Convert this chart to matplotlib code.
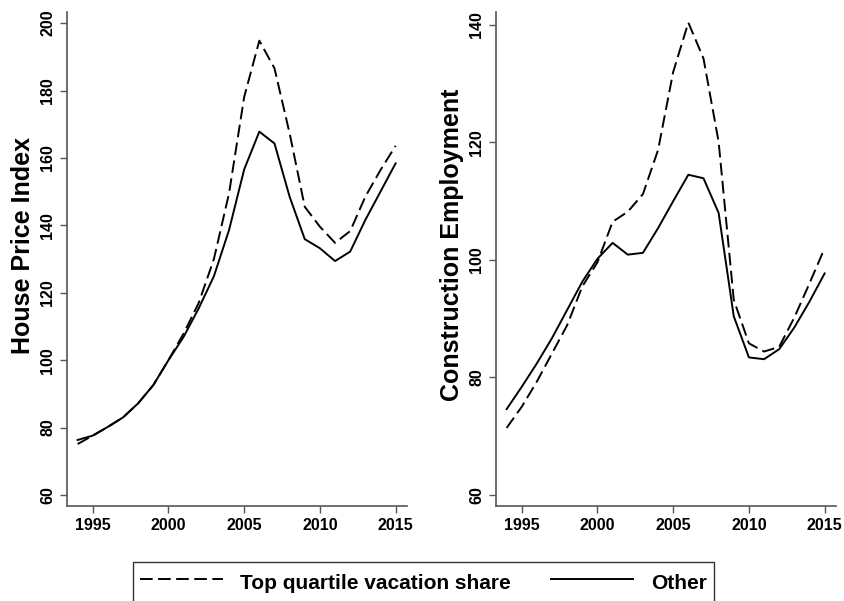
import matplotlib.pyplot as plt

plt.rcParams['font.family'] = ['Liberation Sans', 'DejaVu Sans']

years = list(range(1994, 2016))

# house price index
hpi_top = [75.1, 77.6, 80.2, 83.0, 87.2, 92.6, 100.0, 107.9, 117.0, 130.0, 149.5, 178.1,
           194.8, 186.6, 167.3, 145.5, 139.6, 134.8, 138.3, 148.5, 156.4, 163.6]
hpi_other = [76.3, 77.6, 80.2, 83.0, 87.2, 92.6, 100.0, 106.9, 115.4, 124.9, 138.6, 156.6,
             167.8, 164.3, 148.5, 135.9, 133.2, 129.4, 132.2, 141.6, 150.0, 158.4]

# construction employment
emp_top = [71.4, 75.0, 79.3, 84.1, 88.9, 95.5, 99.6, 106.5, 108.2, 111.2, 118.7, 132.0,
           140.4, 134.3, 120.1, 93.2, 85.8, 84.4, 85.2, 90.2, 96.0, 102.0]
emp_other = [74.6, 78.4, 82.4, 86.7, 91.5, 96.3, 100.2, 102.9, 100.9, 101.2, 105.4, 110.0,
             114.5, 113.9, 108.0, 90.4, 83.4, 83.1, 84.8, 88.5, 92.9, 97.7]

xticks = [1995, 2000, 2005, 2010, 2015]

fig = plt.figure(figsize=(8.44, 6.01), dpi=100)
ax1 = fig.add_axes([0.0794, 0.158, 0.4028, 0.822])
ax2 = fig.add_axes([0.5877, 0.158, 0.4028, 0.822])

paneles = [
    (ax1, hpi_top, hpi_other, "House Price Index", [60, 80, 100, 120, 140, 160, 180, 200], (56.7, 203.3)),
    (ax2, emp_top, emp_other, "Construction Employment", [60, 80, 100, 120, 140], (58.1, 142.2)),
]

for ax, top, other, etiqueta, yt, ylim in paneles:
    l1, = ax.plot(years, top, color='black', lw=1.4, dashes=(6.5, 2.8))
    l2, = ax.plot(years, other, color='black', lw=1.4)
    ax.set_xlim(1993.3, 2015.75)
    ax.set_ylim(*ylim)
    ax.set_xticks(xticks)
    ax.set_xticklabels([str(x) for x in xticks])
    ax.set_yticks(yt)
    ax.set_yticklabels([str(y) for y in yt], rotation=90, va='center')
    for s in ['top', 'right']:
        ax.spines[s].set_visible(False)
    for s in ['left', 'bottom']:
        ax.spines[s].set_color('#555555')
        ax.spines[s].set_linewidth(1.2)
    ax.tick_params(colors='#555555', length=5, width=1.0, labelcolor='black',
                   labelsize=11.5)
    for lab in ax.get_xticklabels() + ax.get_yticklabels():
        lab.set_fontweight('bold')
    ax.set_ylabel(etiqueta, fontsize=18, fontweight='bold', labelpad=4, y=0.528)

leg = fig.legend([l1, l2], ["Top quartile vacation share", "Other"],
                 loc='upper center', bbox_to_anchor=(423.4 / 844, 1 - 562 / 601),
                 ncol=2, prop={'weight': 'bold', 'size': 15},
                 handlelength=3.95, handletextpad=0.85, columnspacing=1.9,
                 handleheight=1.5,
                 borderaxespad=0, fancybox=False, frameon=True, borderpad=0.35)
leg.get_frame().set_edgecolor('black')
leg.get_frame().set_linewidth(1.0)

plt.savefig("out.png", dpi=100)
